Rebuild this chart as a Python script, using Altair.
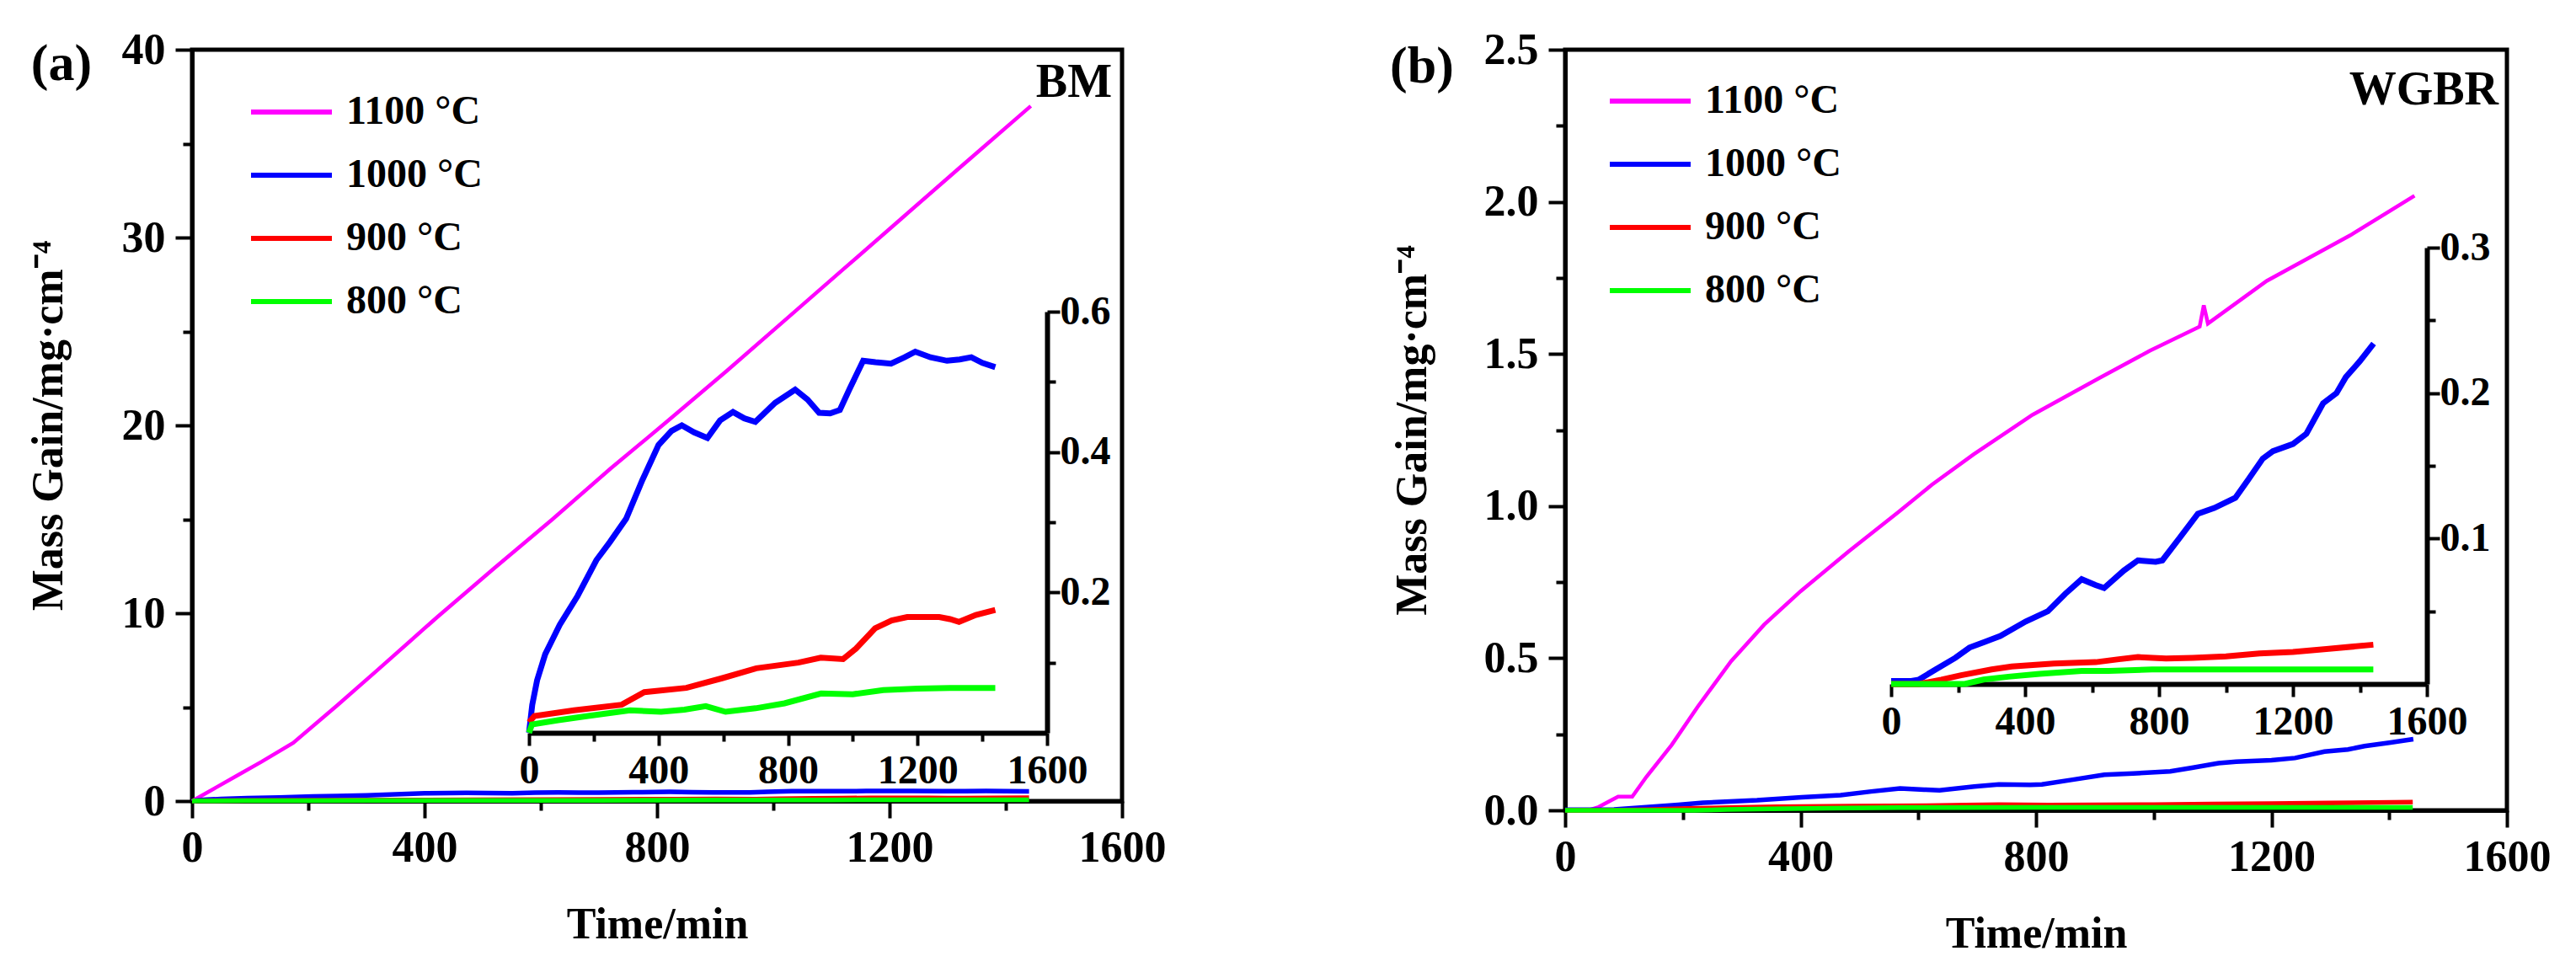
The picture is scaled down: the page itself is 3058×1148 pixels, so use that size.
import altair as alt
import pandas as pd

FONT = "Liberation Serif"
SERIES = ["1100 °C", "1000 °C", "900 °C", "800 °C"]
COLORS = ["#FF00FF", "#0000FF", "#FF0000", "#00FF00"]
TIME_TICKS = [0, 200, 400, 600, 800, 1000, 1200, 1400, 1600]

# ---------------- panel (a) BM ----------------
a1100_t = [0, 40, 80, 120, 174, 250, 320, 422, 520, 620, 720, 817, 920, 1020, 1120, 1220, 1320, 1443]
a1100_v = [0, 0.7, 1.4, 2.1, 3.1, 5.1, 7.0, 9.8, 12.4, 15.0, 17.7, 20.2, 22.9, 25.6, 28.3, 31.0, 33.7, 37.0]

a1000_t = [0, 10, 25, 50, 95, 150, 208, 250, 300, 350, 400, 440, 472, 510, 551, 590, 630, 665, 699,
           760, 822, 860, 896, 930, 960, 990, 1032, 1070, 1118, 1160, 1193, 1240, 1291, 1330, 1366, 1400, 1440]
a1000_v = [0, 0.04, 0.075, 0.112, 0.154, 0.195, 0.246, 0.272, 0.305, 0.36, 0.41, 0.43, 0.438, 0.428, 0.42,
           0.445, 0.457, 0.448, 0.443, 0.47, 0.489, 0.475, 0.456, 0.455, 0.46, 0.49, 0.53, 0.528, 0.526,
           0.535, 0.543, 0.535, 0.53, 0.532, 0.535, 0.527, 0.521]

a900_t = [0, 17, 139, 286, 356, 486, 598, 702, 832, 901, 970, 1010, 1069, 1120, 1168, 1267, 1300, 1328, 1380, 1440]
a900_v = [0.015, 0.024, 0.032, 0.040, 0.058, 0.064, 0.078, 0.092, 0.100, 0.107, 0.105, 0.12, 0.149, 0.16,
          0.165, 0.165, 0.162, 0.158, 0.168, 0.175]

a800_t = [0, 9, 90, 182, 312, 408, 480, 546, 607, 700, 789, 902, 1000, 1094, 1200, 1300, 1440]
a800_v = [0, 0.012, 0.018, 0.024, 0.032, 0.030, 0.033, 0.038, 0.030, 0.035, 0.042, 0.056, 0.055, 0.061,
          0.063, 0.064, 0.064]

# ---------------- panel (b) WGBR ----------------
b1100_t = [0, 40, 57, 75, 90, 114, 138, 181, 225, 282, 338, 400, 481, 566, 623, 694, 794, 907, 993,
           1078, 1085, 1092, 1192, 1334, 1443]
b1100_v = [0, 0.0, 0.011, 0.03, 0.045, 0.045, 0.11, 0.215, 0.34, 0.49, 0.61, 0.72, 0.85, 0.98, 1.07,
           1.17, 1.30, 1.42, 1.51, 1.59, 1.66, 1.60, 1.74, 1.89, 2.02]

b1000_t = [0, 60, 83, 133, 192, 234, 280, 326, 402, 468, 520, 569, 610, 636, 695, 737, 790, 810, 860,
           916, 965, 1028, 1065, 1110, 1140, 1200, 1240, 1290, 1330, 1358, 1400, 1441]
b1000_v = [0.002, 0.002, 0.003, 0.010, 0.018, 0.025, 0.029, 0.033, 0.043, 0.050, 0.062, 0.072, 0.068,
           0.066, 0.078, 0.085, 0.084, 0.085, 0.100, 0.117, 0.121, 0.128, 0.140, 0.155, 0.160, 0.165,
           0.172, 0.193, 0.200, 0.211, 0.222, 0.234]

b900_t = [0, 83, 150, 209, 300, 360, 486, 611, 680, 737, 821, 900, 1000, 1100, 1200, 1300, 1440]
b900_v = [0, 0, 0.003, 0.006, 0.010, 0.012, 0.014, 0.015, 0.017, 0.0185, 0.0175, 0.018, 0.019, 0.021,
          0.022, 0.024, 0.027]

b800_t = [0, 220, 276, 350, 443, 569, 650, 779, 900, 1100, 1300, 1440]
b800_v = [0, 0, 0.003, 0.005, 0.007, 0.009, 0.009, 0.010, 0.010, 0.010, 0.010, 0.010]


def long_df(series):
    rows = []
    for name, ts, vs in series:
        for i, (t, v) in enumerate(zip(ts, vs)):
            rows.append({"s": name, "t": t, "v": v, "i": i})
    return pd.DataFrame(rows)


def cond(test, major, minor):
    return {"condition": {"test": test, "value": major}, "value": minor}


LBL = dict(labelFont=FONT, labelFontWeight="bold", labelColor="black")


def panel(p):
    W, H = p["W"], p["H"]
    legend = alt.Legend(
        orient="none", legendX=p["legX"], legendY=p["legY"], title=None,
        symbolType="stroke", symbolSize=9216, symbolStrokeWidth=6,
        labelFont=FONT, labelFontSize=48, labelFontWeight="bold", labelColor="black",
        labelOffset=14, rowPadding=p["rowPad"], padding=0, labelLimit=0,
    )
    color = alt.Color("s:N", scale=alt.Scale(domain=SERIES, range=COLORS), legend=legend)

    x_main = alt.X("t:Q", scale=alt.Scale(domain=[0, 1600], nice=False),
                   axis=alt.Axis(orient="bottom", values=TIME_TICKS, format="d",
                                 labelExpr="datum.value % 400 === 0 ? datum.label : ''",
                                 tickSize=cond("datum.value % 400 === 0", 20, 11),
                                 title="Time/min", labelFlush=False, labelOverlap=False,
                                 labelFontSize=52, labelPadding=10, titlePadding=40, **LBL))
    y_main = alt.Y("v:Q", scale=alt.Scale(domain=[0, p["ymax"]], nice=False),
                   axis=alt.Axis(orient="left", values=p["yvals"], format=p["yfmt"],
                                 labelExpr=p["ymajor"] + " ? datum.label : ''",
                                 tickSize=cond(p["ymajor"], 20, 11),
                                 title="Mass Gain/mg·cm⁻⁴", labelOverlap=False,
                                 labelFontSize=52, labelPadding=12, titlePadding=p["ytp"], **LBL))

    big = alt.Chart(long_df(p["big"])).mark_line(strokeWidth=4.5).encode(
        x=x_main, y=y_main, color=color, order="i:Q")
    small = alt.Chart(long_df(p["small"])).mark_line(strokeWidth=5.5).encode(
        x=x_main, y=y_main, color=color, order="i:Q")
    name = alt.Chart(pd.DataFrame({"txt": [p["name"]]})).mark_text(
        font=FONT, fontSize=56, fontWeight="bold", align="right", baseline="middle", color="black"
    ).encode(text="txt:N", x=alt.value(p["nameX"]), y=alt.value(p["nameY"]))
    letter = alt.Chart(pd.DataFrame({"txt": [p["letter"]]})).mark_text(
        font=FONT, fontSize=62, fontWeight="bold", align="center", baseline="middle", color="black"
    ).encode(text="txt:N", x=alt.value(p["letX"]), y=alt.value(p["letY"]))
    main = alt.layer(big, small, name, letter)

    x_in = alt.X("t:Q", scale=alt.Scale(domain=[0, 1600], range=p["inX"], nice=False),
                 axis=alt.Axis(orient="bottom", offset=p["inXoff"], values=TIME_TICKS, format="d",
                               labelExpr="datum.value % 400 === 0 ? datum.label : ''",
                               tickSize=cond("datum.value % 400 === 0", 15, 10),
                               title=None, labelFlush=False, labelOverlap=False,
                               labelFontSize=48, labelPadding=6, domainWidth=6, **LBL))
    y_in = alt.Y("v:Q", scale=alt.Scale(domain=[0, p["inYmax"]], range=p["inY"], nice=False),
                 axis=alt.Axis(orient="right", offset=p["inYoff"], values=p["inYvals"], format=".1f",
                               labelExpr=p["inYmajor"] + " ? datum.label : ''",
                               tickSize=cond(p["inYmajor"], 15, 10),
                               title=None, labelOverlap=False, labelFontSize=48,
                               labelPadding=0, domainWidth=6, **LBL))
    inset = alt.Chart(long_df(p["small"])).mark_line(strokeWidth=7).encode(
        x=x_in, y=y_in, color=color, order="i:Q")

    return alt.layer(main, inset).resolve_scale(x="independent", y="independent").properties(
        width=W, height=H)


pa = panel(dict(
    W=1104, H=892, ymax=40, yvals=[0, 5, 10, 15, 20, 25, 30, 35, 40], yfmt="d",
    ymajor="datum.value % 10 === 0", ytp=60,
    big=[("1100 °C", a1100_t, a1100_v)],
    small=[("1000 °C", a1000_t, a1000_v), ("900 °C", a900_t, a900_v), ("800 °C", a800_t, a800_v)],
    name="BM", nameX=1092, nameY=39, letter="(a)", letX=-155, letY=17,
    legX=67, legY=23, rowPad=-2,
    inX=[400, 1015], inXoff=-81, inY=[811, 311], inYoff=-89, inYmax=0.6,
    inYvals=[0.1, 0.2, 0.3, 0.4, 0.5, 0.6],
    inYmajor="abs(datum.value * 5 - round(datum.value * 5)) < 0.001",
))

pb = panel(dict(
    W=1118, H=903, ymax=2.5, yvals=[0, 0.25, 0.5, 0.75, 1.0, 1.25, 1.5, 1.75, 2.0, 2.25, 2.5], yfmt=".1f",
    ymajor="abs(datum.value * 2 - round(datum.value * 2)) < 0.001", ytp=58,
    big=[("1100 °C", b1100_t, b1100_v)],
    small=[("1000 °C", b1000_t, b1000_v), ("900 °C", b900_t, b900_v), ("800 °C", b800_t, b800_v)],
    name="WGBR", nameX=1108, nameY=48, letter="(b)", letX=-170, letY=20,
    legX=50, legY=10, rowPad=-2,
    inX=[387, 1023], inXoff=-150, inY=[753, 235], inYoff=-95, inYmax=0.3,
    inYvals=[0.05, 0.1, 0.15, 0.2, 0.25, 0.3],
    inYmajor="abs(datum.value * 10 - round(datum.value * 10)) < 0.001",
))

chart = alt.hconcat(pa, pb, spacing=526, bounds="flush").resolve_scale(
    color="independent"
).configure(
    padding={"left": 20, "top": 22, "right": 5, "bottom": 5}, font=FONT
).configure_view(
    stroke="black", strokeWidth=5
).configure_axis(
    domainColor="black", domainWidth=5, tickColor="black", tickWidth=4,
    labelColor="black", labelFont=FONT, labelFontSize=52, labelFontWeight="bold",
    titleColor="black", titleFont=FONT, titleFontSize=52, titleFontWeight="bold", grid=False,
)

chart.save("out.html", embed_options={"renderer": "svg", "actions": False})
